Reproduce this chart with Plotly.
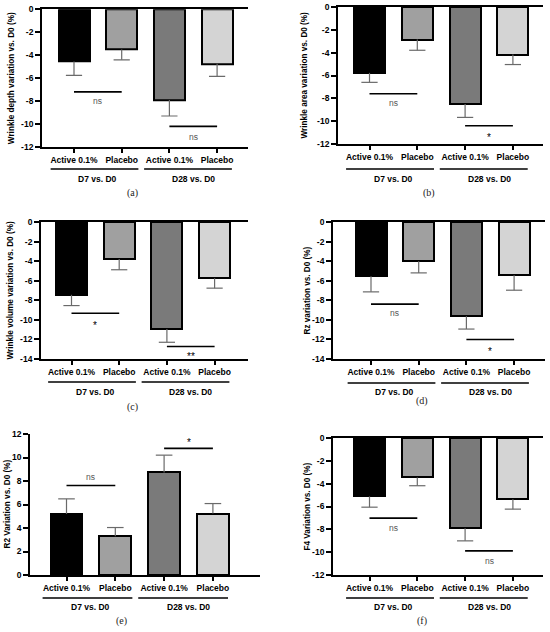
import plotly.graph_objects as go

# categories and groups shared by every panel
categories = ["Active 0.1%", "Placebo", "Active 0.1%", "Placebo"]
groups = ["D7 vs. D0", "D28 vs. D0"]
bar_colors = ["#000000", "#a0a0a0", "#7a7a7a", "#d4d4d4"]
panel_labels = ["(a)", "(b)", "(c)", "(d)", "(e)", "(f)"]

y_titles = [
    "Wrinkle depth variation vs. D0 (%)",
    "Wrinkle area variation vs. D0 (%)",
    "Wrinkle volume variation vs. D0 (%)",
    "Rz variation vs. D0 (%)",
    "R2 Variation vs. D0 (%)",
    "F4 Variation vs. D0 (%)",
]

# means and SEM
depth_mean = [-4.55, -3.5, -7.9, -4.75]
depth_err = [1.2, 0.9, 1.4, 1.1]
area_mean = [-5.77, -2.85, -8.5, -4.17]
area_err = [0.83, 0.94, 1.17, 0.87]
volume_mean = [-7.44, -3.79, -10.93, -5.74]
volume_err = [1.1, 1.09, 1.36, 1.02]
rz_mean = [-5.54, -4.0, -9.62, -5.44]
rz_err = [1.6, 1.2, 1.32, 1.53]
r2_mean = [5.2, 3.3, 8.73, 5.23]
r2_err = [1.28, 0.74, 1.47, 0.85]
f4_mean = [-5.12, -3.45, -7.9, -5.36]
f4_err = [0.94, 0.73, 1.11, 0.87]

# significance brackets: line level, text level, label
depth_sig = [-7.2, -10.2]
depth_sig_txt = [-8.0, -11.1]
depth_sig_lab = ["ns", "ns"]
area_sig = [-7.6, -10.4]
area_sig_txt = [-8.45, -11.2]
area_sig_lab = ["ns", "*"]
volume_sig = [-9.32, -12.73]
volume_sig_txt = [-10.35, -13.5]
volume_sig_lab = ["*", "**"]
rz_sig = [-8.39, -12.0]
rz_sig_txt = [-9.34, -13.0]
rz_sig_lab = ["ns", "*"]
r2_sig = [7.62, 10.78]
r2_sig_txt = [8.33, 11.5]
r2_sig_lab = ["ns", "*"]
f4_sig = [-7.02, -9.89]
f4_sig_txt = [-7.9, -10.77]
f4_sig_lab = ["ns", "ns"]

# y axis ticks
neg12_ticks = [0, -2, -4, -6, -8, -10, -12]
neg14_ticks = [0, -2, -4, -6, -8, -10, -12, -14]
pos12_ticks = [0, 2, 4, 6, 8, 10, 12]

means = [depth_mean, area_mean, volume_mean, rz_mean, r2_mean, f4_mean]
errs = [depth_err, area_err, volume_err, rz_err, r2_err, f4_err]
sigs = [depth_sig, area_sig, volume_sig, rz_sig, r2_sig, f4_sig]
sig_txts = [depth_sig_txt, area_sig_txt, volume_sig_txt, rz_sig_txt, r2_sig_txt, f4_sig_txt]
sig_labs = [depth_sig_lab, area_sig_lab, volume_sig_lab, rz_sig_lab, r2_sig_lab, f4_sig_lab]
ticks = [neg12_ticks, neg12_ticks, neg14_ticks, neg14_ticks, pos12_ticks, neg12_ticks]

W, H = 550, 632
FONT = "Liberation Sans"

# pixel geometry of each panel:
# axis left, axis right, top, bottom, first bar centre, bar spacing,
# y-title x, group underline y, group label y, panel label x, panel label y
geom = [
    (42, 248, 9.3, 147, 74, 47.7, 11, 169, 179, 132, 193),
    (338, 543, 7, 144, 369.5, 47.8, 304, 169, 179, 429, 193),
    (41, 248, 222, 359, 71.5, 47.7, 10, 382, 392, 132, 407),
    (333, 545, 222, 359, 371, 47.7, 307, 383, 392, 422, 401),
    (30, 260, 434, 575, 66.5, 48.8, 7, 598, 607, 121, 621),
    (333, 543, 438, 575, 369.5, 47.8, 307, 598, 607, 422, 621),
]


def px(x):
    return x / W


def py(y):
    return 1 - y / H


def note(x, y, text, **kw):
    return dict(x=x, y=y, text=text, showarrow=False,
                xanchor="center", yanchor="middle", **kw)


fig = go.Figure()
annotations = []
shapes = []
xs = [0, 1, 2, 3]
cap = 0.17

for k in range(6):
    left, right, top, bot, c0, sp, ytx, uly, gly, plx, ply = geom[k]
    sx = "" if k == 0 else str(k + 1)
    xa, ya = "x" + sx, "y" + sx
    m, e = means[k], errs[k]

    fig.add_trace(go.Bar(
        x=xs, y=m, width=0.65, xaxis=xa, yaxis=ya,
        marker=dict(color=bar_colors, line=dict(color="black", width=2)),
        showlegend=False))

    # one-sided error bars away from zero
    wx, wy = [], []
    for i in range(4):
        end = m[i] + e[i] if m[i] > 0 else m[i] - e[i]
        wx += [xs[i], xs[i], None, xs[i] - cap, xs[i] + cap, None]
        wy += [m[i], end, None, end, end, None]
    fig.add_trace(go.Scatter(x=wx, y=wy, mode="lines", xaxis=xa, yaxis=ya,
                             line=dict(color="#6a6a6a", width=1.2),
                             showlegend=False, hoverinfo="skip"))

    # significance lines
    lx, ly = [], []
    for g in range(2):
        lx += [xs[2 * g], xs[2 * g + 1], None]
        ly += [sigs[k][g], sigs[k][g], None]
        lab = sig_labs[k][g]
        star = "*" in lab
        annotations.append(note(
            (xs[2 * g] + xs[2 * g + 1]) / 2, sig_txts[k][g], lab,
            xref=xa, yref=ya, yshift=-2.5 if star else 0,
            font=dict(family=FONT, size=10 if star else 8.5,
                      color="black" if star else "#555555")))
    fig.add_trace(go.Scatter(x=lx, y=ly, mode="lines", xaxis=xa, yaxis=ya,
                             line=dict(color="black", width=1.6),
                             showlegend=False, hoverinfo="skip"))

    t = ticks[k]
    neg = min(t) < 0
    fig.layout["xaxis" + sx] = dict(
        domain=[px(left), px(right)], anchor=ya, automargin=False,
        range=[(left - c0) / sp, (right - c0) / sp],
        tickvals=xs, ticktext=categories,
        ticks="outside", ticklen=4, tickwidth=1.6, tickcolor="black",
        showline=True, linecolor="black", linewidth=1.8, mirror=neg,
        showgrid=False, zeroline=False, fixedrange=True,
        tickfont=dict(family=FONT, size=8.5, color="black", weight="bold"))
    fig.layout["yaxis" + sx] = dict(
        domain=[py(bot), py(top)], anchor=xa, automargin=False,
        range=[min(t), max(t)],
        tickvals=t, ticktext=[str(v) for v in t],
        ticks="outside", ticklen=5, tickwidth=1.6, tickcolor="black",
        showline=True, linecolor="black", linewidth=1.8,
        showgrid=False, zeroline=False, fixedrange=True,
        tickfont=dict(family=FONT, size=8.5, color="black", weight="bold"))

    # y title
    annotations.append(note(
        px(ytx), (py(bot) + py(top)) / 2, y_titles[k],
        xref="paper", yref="paper", textangle=-90,
        font=dict(family=FONT, size=8.2, color="black", weight="bold")))

    # group underlines and labels
    for g, (a0, a1) in enumerate([(-0.49, 1.35), (1.47, 3.31)]):
        shapes.append(dict(type="line", xref="paper", yref="paper",
                           x0=px(c0 + a0 * sp), x1=px(c0 + a1 * sp),
                           y0=py(uly), y1=py(uly),
                           line=dict(color="black", width=1.6)))
        annotations.append(note(
            px(c0 + (0.5 + 2 * g) * sp), py(gly), groups[g],
            xref="paper", yref="paper",
            font=dict(family=FONT, size=8.5, color="black", weight="bold")))

    annotations.append(note(
        px(plx), py(ply), panel_labels[k], xref="paper", yref="paper",
        font=dict(family="Liberation Serif", size=10, color="#222222")))

fig.update_layout(
    width=W, height=H,
    margin=dict(l=0, r=0, t=0, b=0, pad=0, autoexpand=False),
    paper_bgcolor="white", plot_bgcolor="white",
    annotations=annotations, shapes=shapes, bargap=0,
)

# the page body has a default 8px margin; drop it so the figure fills the window
fig.write_html("out.html", config={"displayModeBar": False},
               post_script="document.body.style.margin='0';")
